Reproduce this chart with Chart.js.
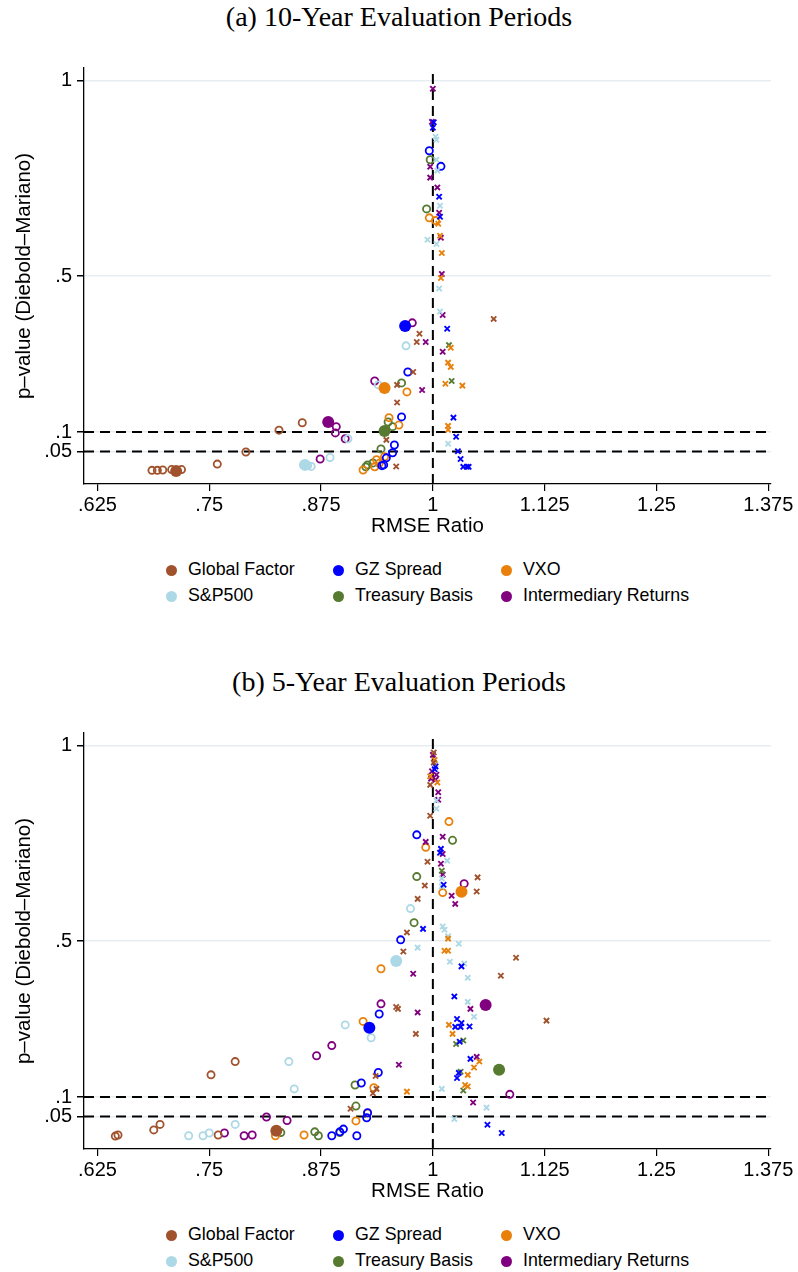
<!DOCTYPE html>
<html>
<head>
<meta charset="utf-8">
<script src="https://cdn.jsdelivr.net/npm/chart.js@4.4.1/dist/chart.umd.min.js"></script>
<style>
  body { margin: 0; background: #fff; width: 798px; height: 1272px; position: relative; overflow: hidden; }
  canvas { position: absolute; left: 0; }
  .title { position: absolute; left: 0; width: 798px; text-align: center; font-family: "Liberation Serif", "Times New Roman", serif; font-size: 28px; color: #000; }
  .lg { position: absolute; font-family: "Liberation Sans", Arial, sans-serif; font-size: 17.8px; color: #000; white-space: nowrap; line-height: 20px; }
  .lg span { display: inline-block; width: 11px; height: 11px; border-radius: 50%; margin-right: 11px; vertical-align: -1px; }
</style>
</head>
<body>
<div class="title" style="top:1px">(a) 10-Year Evaluation Periods</div>
<canvas id="chartA" width="798" height="502" style="top:40px"></canvas>
<div class="title" style="top:666px">(b) 5-Year Evaluation Periods</div>
<canvas id="chartB" width="798" height="502" style="top:705px"></canvas>

<script>
// axis ticks
const xTicks = [0.625, 0.75, 0.875, 1, 1.125, 1.25, 1.375];
const xTickLabels = ['.625', '.75', '.875', '1', '1.125', '1.25', '1.375'];
const yTicks = [0.05, 0.1, 0.5, 1];
const yTickLabels = ['.05', '.1', '.5', '1'];

// series names + colours
const seriesNames = ['Global Factor', 'GZ Spread', 'VXO', 'S&P500', 'Treasury Basis', 'Intermediary Returns'];
const seriesColors = ['#A0522D', '#0000FF', '#E8800A', '#ADD8E6', '#557A30', '#800080'];

// ---- (a) 10-year evaluation periods: [rmse ratio, p-value]
// o = hollow circles, x = crosses, big = filled dot
const a_gf_o = [[0.686,0.002],[0.692,0.002],[0.698,0.003],[0.708,0.004],[0.719,0.004],[0.759,0.018],[0.791,0.049],[0.828,0.105],[0.854,0.124]];
const a_gf_x = [[0.978,0.254],[0.960,0.221],[0.960,0.176],[0.948,0.080],[0.959,0.012],[0.982,0.331],[0.985,0.352],[1.068,0.390]];
const a_gf_big = [[0.713,0.0]];

const a_gz_o = [[0.996,0.821],[1.009,0.781],[0.972,0.254],[0.965,0.139],[0.957,0.067],[0.955,0.047],[0.948,0.034],[0.945,0.016],[0.943,0.014]];
const a_gz_x = [[1.001,0.894],[1.000,0.880],[1.007,0.703],[1.008,0.652],[1.016,0.365],[1.023,0.137],[1.026,0.088],[1.028,0.051],[1.031,0.031],[1.034,0.011],[1.038,0.011],[1.040,0.011]];
const a_gz_big = [[0.969,0.372]];

const a_vxo_o = [[0.996,0.649],[1.003,0.642],[0.971,0.203],[0.951,0.137],[0.962,0.118],[0.937,0.029],[0.935,0.011],[0.922,0.003],[0.946,0.037],[0.940,0.020]];
const a_vxo_x = [[1.006,0.634],[1.008,0.603],[1.010,0.559],[1.009,0.495],[1.020,0.316],[1.017,0.278],[1.020,0.267],[1.014,0.224],[1.033,0.219],[1.017,0.116],[1.017,0.106]];
const a_vxo_big = [[0.946,0.213]];

const a_sp_o = [[0.860,0.014],[0.864,0.012],[0.885,0.035],[0.905,0.083],[0.939,0.221],[0.970,0.321]];
const a_sp_x = [[1.003,0.857],[1.004,0.849],[1.004,0.798],[1.005,0.770],[1.008,0.680],[0.994,0.593],[1.004,0.582],[1.007,0.468],[1.008,0.409],[1.017,0.070]];
const a_sp_big = [[0.857,0.016]];

const a_tb_o = [[0.997,0.798],[0.993,0.672],[0.965,0.226],[0.950,0.126],[0.955,0.114],[0.942,0.057],[0.933,0.021],[0.927,0.016],[0.925,0.011]];
const a_tb_x = [[1.018,0.323],[1.021,0.231]];
const a_tb_big = [[0.946,0.103]];

const a_ir_o = [[0.977,0.380],[0.935,0.231],[0.892,0.114],[0.891,0.098],[0.902,0.083],[0.874,0.031],[0.857,0.016]];
const a_ir_x = [[1.000,0.980],[0.999,0.895],[0.997,0.780],[0.997,0.752],[1.005,0.727],[1.007,0.662],[1.009,0.598],[1.010,0.505],[1.011,0.400],[0.992,0.331],[0.988,0.208],[1.011,0.306]];
const a_ir_big = [[0.883,0.126]];

// ---- (b) 5-year evaluation periods
const b_gf_o = [[0.645,0.000],[0.648,0.003],[0.688,0.016],[0.695,0.030],[0.752,0.157],[0.779,0.191],[0.760,0.003]];
const b_gf_x = [[0.967,0.473],[0.959,0.331],[0.961,0.326],[0.981,0.262],[0.936,0.154],[0.933,0.110],[0.937,0.121],[0.908,0.070],[0.997,0.821],[0.994,0.703],[0.991,0.642],[0.983,0.608],[1.050,0.663],[1.049,0.627],[0.971,0.522],[0.997,0.900],[1.001,0.957],[1.001,0.983],[1.093,0.457],[1.076,0.411],[1.127,0.296]];
const b_gf_big = [[0.825,0.014]];

const b_gz_o = [[0.940,0.313],[0.939,0.163],[0.920,0.136],[0.927,0.060],[0.926,0.047],[0.900,0.018],[0.896,0.011],[0.887,0.001],[0.915,0.001],[0.982,0.772],[0.964,0.503]];
const b_gz_x = [[1.009,0.736],[1.008,0.726],[1.012,0.644],[0.989,0.531],[1.003,0.947],[1.032,0.435],[1.024,0.358],[1.027,0.300],[1.025,0.280],[1.031,0.280],[1.032,0.290],[1.041,0.281],[1.030,0.242],[1.042,0.198],[1.029,0.162],[1.027,0.149],[1.061,0.029],[1.077,0.008],[1.002,0.940]];
const b_gz_big = [[0.929,0.278]];

const b_vxo_o = [[1.018,0.806],[0.992,0.740],[1.011,0.624],[0.942,0.429],[0.922,0.294],[0.934,0.124],[0.927,0.059],[0.914,0.039],[0.856,0.003],[0.824,0.001]];
const b_vxo_x = [[1.017,0.506],[1.013,0.475],[1.017,0.475],[1.002,0.964],[0.997,0.922],[1.005,0.906],[1.018,0.285],[1.022,0.262],[1.052,0.191],[1.046,0.176],[1.039,0.157],[1.036,0.131],[1.039,0.127],[0.971,0.114]];
const b_vxo_big = [[1.032,0.626]];

const b_sp_o = [[0.727,0.001],[0.743,0.001],[0.750,0.008],[0.779,0.030],[0.839,0.191],[0.845,0.121],[0.902,0.285],[0.931,0.252],[0.975,0.583]];
const b_sp_x = [[1.004,0.839],[1.003,0.952],[1.016,0.706],[1.011,0.537],[1.013,0.529],[1.017,0.512],[1.029,0.493],[0.983,0.483],[1.010,0.660],[1.010,0.640],[1.019,0.447],[1.035,0.442],[1.039,0.406],[1.039,0.344],[1.046,0.306],[1.010,0.121],[1.060,0.073],[1.024,0.044],[1.004,0.860]];
const b_sp_big = [[0.959,0.449]];

const b_tb_o = [[1.022,0.758],[0.982,0.665],[0.979,0.547],[0.913,0.131],[0.914,0.077],[0.868,0.011],[0.872,0.001],[0.830,0.009],[0.896,0.009]];
const b_tb_x = [[1.034,0.245],[1.026,0.236],[1.031,0.165],[1.034,0.117],[1.010,0.680]];
const b_tb_big = [[1.074,0.170]];

const b_ir_o = [[1.035,0.647],[1.086,0.107],[0.942,0.339],[0.887,0.232],[0.870,0.206],[0.814,0.049],[0.837,0.040],[0.767,0.008],[0.789,0.001],[0.798,0.003]];
const b_ir_x = [[0.978,0.416],[0.983,0.317],[0.962,0.183],[1.011,0.767],[0.992,0.754],[1.011,0.723],[1.009,0.698],[1.011,0.670],[1.021,0.616],[1.025,0.595],[1.006,0.881],[1.006,0.862],[1.000,0.977],[0.999,0.935],[1.004,0.926],[1.003,0.913],[0.998,0.916],[1.042,0.326],[1.049,0.203],[1.045,0.086]];
const b_ir_big = [[1.059,0.336]];

const xMin = 0.61, xMax = 1.378;
const yMin = -0.033, yMax = 1.033;

function pts(arr) {
  return arr.map(function(p) { return { x: p[0], y: p[1] }; });
}

function buildDatasets(groups) {
  var ds = [];
  // reference lines, drawn under the markers
  [0.1, 0.05].forEach(function(v) {
    ds.push({ type: 'line', data: [{ x: xMin, y: v }, { x: xMax, y: v }], borderColor: '#000', borderWidth: 2,
      borderDash: [10, 6], pointRadius: 0, order: 100 });
  });
  ds.push({ type: 'line', data: [{ x: 1, y: yMin }, { x: 1, y: yMax }], borderColor: '#000', borderWidth: 2,
    borderDash: [10, 6], pointRadius: 0, order: 100 });

  groups.forEach(function(g, i) {
    var c = seriesColors[i];
    ds.push({ data: pts(g[0]), pointStyle: 'circle', pointRadius: 3.6, borderWidth: 1.8,
      borderColor: c, backgroundColor: 'rgba(0,0,0,0)', order: 5 });
    ds.push({ data: pts(g[1]), pointStyle: 'crossRot', pointRadius: 3.7, borderWidth: 1.9,
      borderColor: c, backgroundColor: c, order: 4 });
    ds.push({ data: pts(g[2]), pointStyle: 'circle', pointRadius: 6, borderWidth: 0,
      borderColor: c, backgroundColor: c, order: 1 });
  });
  return ds;
}

function makeChart(id, groups) {
  var tickFont = { family: 'Liberation Sans, Arial, sans-serif', size: 20 };
  var titleFont = { family: 'Liberation Sans, Arial, sans-serif', size: 20.5 };
  return new Chart(document.getElementById(id), {
    type: 'scatter',
    data: { datasets: buildDatasets(groups) },
    options: {
      responsive: false,
      animation: false,
      layout: { padding: { left: 8, right: 27, top: 28, bottom: 0 } },
      plugins: { legend: { display: false }, tooltip: { enabled: false } },
      scales: {
        x: {
          type: 'linear', min: xMin, max: xMax,
          afterBuildTicks: function(scale) { scale.ticks = xTicks.map(function(v) { return { value: v }; }); },
          afterFit: function(scale) { scale.height = 58; },
          ticks: { color: '#000', font: tickFont, padding: 2, maxRotation: 0,
            callback: function(v) { return xTickLabels[xTicks.indexOf(v)]; } },
          grid: { drawOnChartArea: false, tickColor: '#000', tickLength: 7, lineWidth: 1.2 },
          border: { color: '#000', width: 1.3 },
          title: { display: true, text: 'RMSE Ratio', color: '#000', font: titleFont, padding: 3 }
        },
        y: {
          type: 'linear', min: yMin, max: yMax,
          afterBuildTicks: function(scale) { scale.ticks = yTicks.map(function(v) { return { value: v }; }); },
          afterFit: function(scale) { scale.width = 76; },
          ticks: { color: '#000', font: tickFont, padding: 5,
            callback: function(v) { return yTickLabels[yTicks.indexOf(v)]; } },
          grid: { color: '#e6eef1', lineWidth: 1.5, tickColor: '#000', tickLength: 7 },
          border: { color: '#000', width: 1.3 },
          title: { display: true, text: 'p–value (Diebold–Mariano)', color: '#000', font: titleFont, padding: 4 }
        }
      }
    }
  });
}

function makeLegend(top) {
  var cols = [166, 333, 501];
  seriesNames.forEach(function(name, i) {
    var d = document.createElement('div');
    d.className = 'lg';
    d.style.left = cols[i % 3] + 'px';
    d.style.top = (top + Math.floor(i / 3) * 26) + 'px';
    d.innerHTML = '<span style="background:' + seriesColors[i] + '"></span>';
    d.appendChild(document.createTextNode(name));
    document.body.appendChild(d);
  });
}

makeChart('chartA', [[a_gf_o, a_gf_x, a_gf_big], [a_gz_o, a_gz_x, a_gz_big], [a_vxo_o, a_vxo_x, a_vxo_big],
  [a_sp_o, a_sp_x, a_sp_big], [a_tb_o, a_tb_x, a_tb_big], [a_ir_o, a_ir_x, a_ir_big]]);
makeChart('chartB', [[b_gf_o, b_gf_x, b_gf_big], [b_gz_o, b_gz_x, b_gz_big], [b_vxo_o, b_vxo_x, b_vxo_big],
  [b_sp_o, b_sp_x, b_sp_big], [b_tb_o, b_tb_x, b_tb_big], [b_ir_o, b_ir_x, b_ir_big]]);
makeLegend(559);
makeLegend(1224);
</script>
</body>
</html>
